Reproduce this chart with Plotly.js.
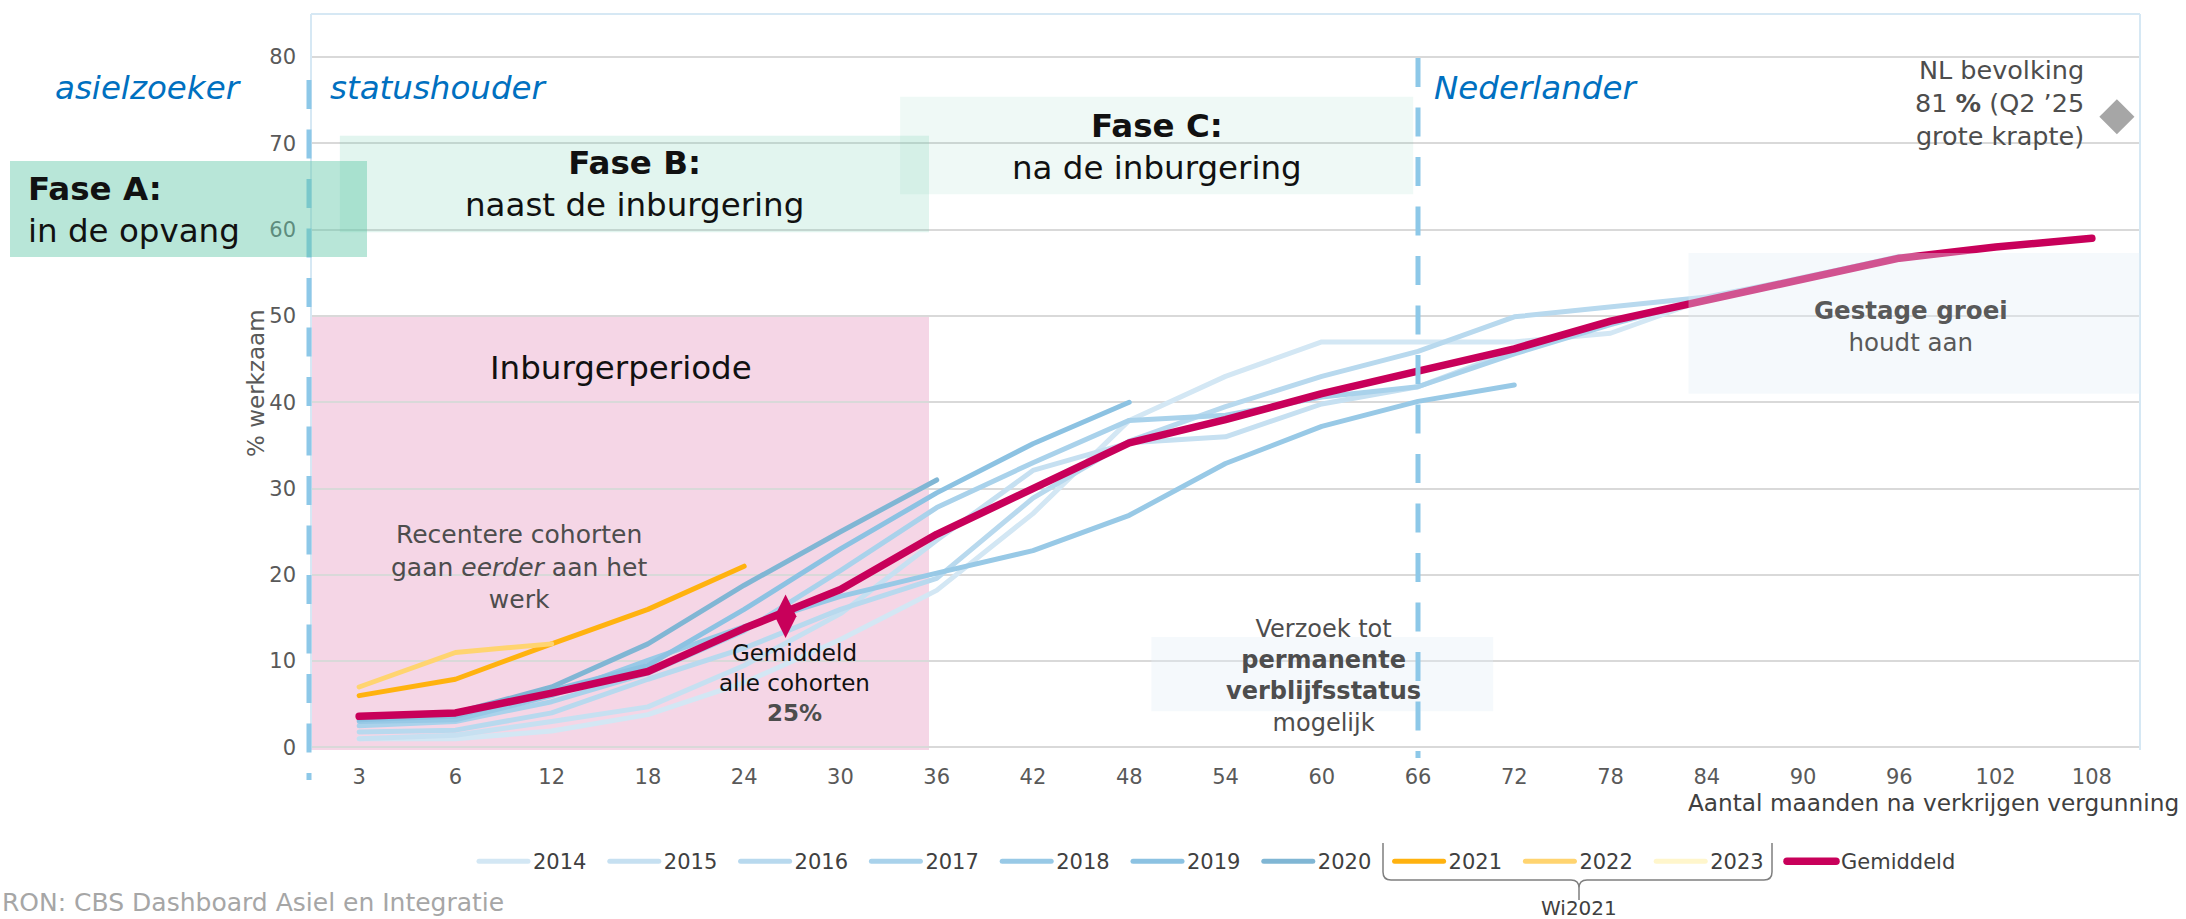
<!DOCTYPE html>
<html>
<head>
<meta charset="utf-8">
<script src="https://cdn.plot.ly/plotly-3.0.1.min.js"></script>
<style>
html,body{margin:0;padding:0;background:#fff;}
#chart{width:2186px;height:919px;}
.scatterlayer .js-line, .legend .js-line {stroke-linecap:round; stroke-linejoin:round;}
</style>
</head>
<body>
<div id="chart"></div>
<script>
// ---- data ----
const months = ['3','6','12','18','24','30','36','42','48','54','60','66','72','78','84','90','96','102','108'];
const cohort2014 = [1.0, 1.0, 1.9, 3.8, 7.5, 12.5, 18.2, 27.1, 37.9, 43.0, 47.0, 47.0, 47.0, 48.0, 52.0, 54.5, 56.8];
const cohort2015 = [1.0, 1.4, 3.0, 4.7, 9.5, 15.5, 24.0, 32.1, 35.3, 36.0, 39.8, 41.8, 46.0, 49.4, 51.9, 54.3, 56.7, 58.0, 59.0];
const cohort2016 = [1.8, 2.0, 4.0, 7.9, 11.5, 16.0, 19.6, 28.9, 35.5, 39.5, 43.0, 45.9, 49.9, 51.0, 52.2, 54.4, 56.9];
const cohort2017 = [2.5, 3.0, 5.3, 8.6, 13.5, 20.5, 27.8, 33.0, 37.9, 38.5, 40.6, 41.8, 45.6, 49.0, 52.0];
const cohort2018 = [3.0, 3.2, 6.0, 10.1, 14.0, 17.5, 20.2, 22.8, 26.9, 32.9, 37.2, 40.1, 42.0];
const cohort2019 = [3.2, 3.6, 6.6, 9.5, 16.0, 23.0, 29.5, 35.2, 40.0];
const cohort2020 = [3.4, 4.0, 7.0, 12.0, 18.8, 25.0, 31.0];
const cohort2021 = [6.0, 7.9, 12.0, 16.0, 21.0];
const cohort2022 = [7.0, 11.0, 12.0];
const cohort2023 = [7.5];
const gemiddeld  = [3.6, 4.0, 6.3, 8.8, 13.8, 18.3, 24.7, 30.0, 35.3, 38.0, 41.0, 43.6, 46.2, 49.4, 51.9, 54.3, 56.7, 58.0, 59.0];
const seriesNames = ['2014','2015','2016','2017','2018','2019','2020','2021','2022','2023','Gemiddeld'];
const seriesValues = [cohort2014, cohort2015, cohort2016, cohort2017, cohort2018, cohort2019, cohort2020, cohort2021, cohort2022, cohort2023, gemiddeld];
const seriesColors = ['#d3e7f4','#c6e0f1','#b8d9ee','#a9d2eb','#98c9e6','#8cc2e2','#80b6d4','#ffb20f','#ffd470','#fff6cc','#c8005a'];
// diamond markers (positions in category-index units of the month axis)
const avgDiamondX = [4.43], avgDiamondY = [15.2];
const nlDiamondX = [18.26], nlDiamondY = [73.1];

// ---- geometry helpers (pixel -> paper) ----
const L = 311, R = 2140, T = 14, B = 750;
const px = x => (x - L) / (R - L);
const py = y => (B - y) / (B - T);

const traces = seriesNames.map((n, i) => ({
  type: 'scatter', mode: 'lines', name: n,
  x: months.slice(0, seriesValues[i].length), y: seriesValues[i],
  line: {color: seriesColors[i], width: n === 'Gemiddeld' ? 7.5 : 5},
  hoverinfo: 'skip'
}));
// spacer legend entry so that the last real label is not clipped
traces.push({type:'scatter', mode:'lines', name:' ', x:[months[0]], y:[null],
  line:{width:0, color:'rgba(0,0,0,0)'}, hoverinfo:'skip'});
traces.push({type:'scatter', mode:'markers', x: avgDiamondX, y: avgDiamondY, xaxis:'x2', yaxis:'y',
  marker:{symbol:'diamond-tall', size:31, color:'#c8005a'}, showlegend:false, cliponaxis:false, hoverinfo:'skip'});
traces.push({type:'scatter', mode:'markers', x: nlDiamondX, y: nlDiamondY, xaxis:'x2', yaxis:'y',
  marker:{symbol:'diamond', size:27, color:'#a6a6a6'}, showlegend:false, cliponaxis:false, hoverinfo:'skip'});

const F = 'DejaVu Sans, Verdana, sans-serif';
const dashBlue = '#8dc8e8';
const shapes = [
  {type:'rect', xref:'x2', yref:'y', x0:-0.5, x1:5.92, y0:-0.3, y1:50, fillcolor:'#f5d6e6', line:{width:0}, layer:'below'},
  {type:'line', xref:'paper', yref:'paper', x0:0, x1:1, y0:1, y1:1, line:{color:'#d6e8f4', width:2}, layer:'above'},
  {type:'line', xref:'paper', yref:'paper', x0:1, x1:1, y0:0, y1:1, line:{color:'#d6e8f4', width:2}, layer:'above'},
  {type:'line', xref:'paper', yref:'paper', x0:0, x1:0, y0:0, y1:1, line:{color:'#d6e8f4', width:2}, layer:'above'},
  {type:'rect', xref:'x2', yref:'y', x0:8.23, x1:11.78, y0:4.2, y1:12.8, fillcolor:'rgba(225,238,245,0.35)', line:{width:0}, layer:'above'},
  {type:'rect', xref:'x2', yref:'y', x0:13.81, x1:18.5, y0:41.0, y1:57.3, fillcolor:'rgba(225,238,245,0.35)', line:{width:0}, layer:'above'},
  {type:'line', xref:'paper', yref:'paper', x0:px(309), x1:px(309), y0:py(80), y1:py(780), line:{color:dashBlue, width:5, dash:'29px,20.5px'}, layer:'above'},
  {type:'line', xref:'paper', yref:'paper', x0:px(1418), x1:px(1418), y0:py(58), y1:py(758), line:{color:dashBlue, width:5, dash:'29px,20.5px'}, layer:'above'},
  {type:'rect', xref:'x2', yref:'y', x0:-0.2, x1:5.92, y0:59.7, y1:70.9, fillcolor:'rgba(100,200,170,0.19)', line:{width:0}, layer:'above'},
  {type:'rect', xref:'x2', yref:'y', x0:5.62, x1:10.95, y0:64.1, y1:75.4, fillcolor:'rgba(100,200,170,0.10)', line:{width:0}, layer:'above'},
  {type:'rect', xref:'paper', yref:'paper', x0:px(10), x1:px(367), y0:py(257), y1:py(161), fillcolor:'rgba(100,200,170,0.46)', line:{width:0}, layer:'above'},
  {type:'path', xref:'paper', yref:'paper', layer:'above', line:{color:'#7f7f7f', width:1.5},
   path: `M${px(1383)},${py(843)} L${px(1383)},${py(872)} Q${px(1383)},${py(880)} ${px(1391)},${py(880)} L${px(1571)},${py(880)} Q${px(1579)},${py(880)} ${px(1579)},${py(888)} L${px(1579)},${py(900)} M${px(1579)},${py(888)} Q${px(1579)},${py(880)} ${px(1587)},${py(880)} L${px(1764)},${py(880)} Q${px(1772)},${py(880)} ${px(1772)},${py(872)} L${px(1772)},${py(843)}`}
];

const ann = (text, x, y, opts) => Object.assign({text, xref:'paper', yref:'paper', x:px(x), y:py(y), showarrow:false,
  xanchor:'center', yanchor:'middle', font:{family:F, size:24, color:'#595959'}}, opts || {});
const blue = '#0070c0';
const annotations = [
  ann('<i>asielzoeker</i>', 148, 88, {font:{family:F, size:32.5, color:blue}}),
  ann('<i>statushouder</i>', 328, 88, {xanchor:'left', font:{family:F, size:32.5, color:blue}}),
  ann('<i>Nederlander</i>', 1432, 88, {xanchor:'left', font:{family:F, size:32.5, color:blue}}),
  ann('<b>Fase A:</b><br>in de opvang', 26, 210, {xanchor:'left', align:'left', font:{family:F, size:32.5, color:'#111'}}),
  ann('<b>Fase B:</b><br>naast de inburgering', 634, 184, {font:{family:F, size:32.5, color:'#111'}}),
  ann('<b>Fase C:</b><br>na de inburgering', 1157, 147, {font:{family:F, size:32.5, color:'#111'}}),
  ann('Inburgerperiode', 621, 368, {font:{family:F, size:32.5, color:'#111'}}),
  ann('Recentere cohorten<br>gaan <i>eerder</i> aan het<br>werk', 519, 567, {font:{family:F, size:25, color:'#4d4d4d'}}),
  ann('Gemiddeld<br>alle cohorten<br><b><span style="color:#4d4d4d">25%</span></b>', 794, 683, {font:{family:F, size:23, color:'#111'}}),
  ann('Verzoek tot<br><b>permanente</b><br><b>verblijfsstatus</b><br>mogelijk', 1323, 676, {font:{family:F, size:24, color:'#4d4d4d'}}),
  ann('<b>Gestage groei</b><br>houdt aan', 1911, 326, {font:{family:F, size:24.5, color:'#595959'}}),
  ann('NL bevolking<br>81 <b>%</b> (Q2 ’25<br>grote krapte)', 2086, 103, {xanchor:'right', align:'right', font:{family:F, size:25.5, color:'#4d4d4d'}}),
  ann('Aantal maanden na verkrijgen vergunning', 2181, 803, {xanchor:'right', font:{family:F, size:23.2, color:'#404040'}}),
  ann('% werkzaam', 256, 383, {textangle:-90, font:{family:F, size:23, color:'#595959'}}),
  ann('RON: CBS Dashboard Asiel en Integratie', 0, 902, {xanchor:'left', font:{family:F, size:25, color:'#a6a6a6'}}),
  ann('Wi2021', 1579, 908, {font:{family:F, size:20, color:'#404040'}})
];

const layout = {
  width: 2186, height: 919,
  margin: {l: L, r: 2186 - R, t: T, b: 919 - B, pad: 0},
  paper_bgcolor: '#ffffff', plot_bgcolor: 'rgba(0,0,0,0)',
  font: {family: F, size: 21, color: '#595959'},
  showlegend: true,
  legend: {orientation:'h', x: px(474), xanchor:'left', y: py(841), yanchor:'top',
    font:{family:F, size:21, color:'#404040'}, itemwidth:49, entrywidth:66.8, entrywidthmode:'pixels',
    traceorder:'normal', bgcolor:'rgba(0,0,0,0)', borderwidth:0},
  xaxis: {type:'category', categoryorder:'array', categoryarray: months, range:[-0.5, 18.5],
    showgrid:false, zeroline:false, showline:false, ticks:'', ticklabelstandoff: 12,
    tickfont:{family:F, size:21, color:'#595959'}, fixedrange:true},
  xaxis2: {overlaying:'x', type:'linear', range:[-0.5, 18.5], visible:false, fixedrange:true},
  yaxis: {range:[-0.3, 85], tick0:0, dtick:10, showgrid:true, gridcolor:'#d9d9d9', gridwidth:2,
    zeroline:false, showline:false, ticks:'', ticklabelstandoff: 14,
    tickfont:{family:F, size:21, color:'#595959'}, fixedrange:true},
  shapes, annotations
};

Plotly.newPlot('chart', traces, layout, {displayModeBar:false, staticPlot:true});
</script>
</body>
</html>
